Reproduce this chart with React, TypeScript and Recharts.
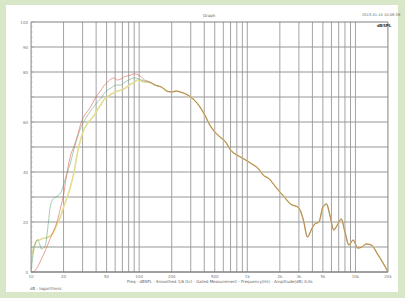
import { LineChart, Line, XAxis, YAxis, ReferenceLine } from 'recharts';

const lowFreqs = [10, 10.5, 11, 11.5, 12, 12.5, 13.5, 14.5, 15, 16, 17, 18, 19, 20, 21, 23, 25, 27, 29, 31, 34, 36, 38, 41, 44, 47, 51, 55, 58, 63, 68, 72, 77, 84, 88, 93, 98, 105, 112, 120, 130];
const redLow = [0, 0, 0.8, 2.0, 3.6, 5.2, 8.4, 11.6, 13.2, 16.0, 18.8, 22.4, 26.8, 30.8, 36.8, 46.0, 50.4, 54.8, 59.6, 62.4, 64.8, 66.4, 68.4, 70.8, 72.4, 74.4, 76.0, 77.2, 77.6, 76.8, 77.2, 78.0, 78.4, 78.8, 79.2, 79.2, 78.8, 78.0, 76.8, 76.4, 75.6];
const greenLow = [0, 7.6, 11.6, 12.8, 11.2, 9.2, 10.4, 20.0, 25.6, 29.2, 30.0, 30.8, 32.0, 34.8, 38.0, 43.2, 49.2, 54.0, 58.0, 60.4, 63.2, 64.8, 66.0, 68.0, 69.2, 71.2, 72.8, 73.6, 74.4, 74.8, 74.8, 75.6, 76.4, 77.2, 77.6, 77.6, 77.2, 76.8, 76.4, 76.0, 75.6];
const yellowLow = [5.6, 9.2, 11.6, 12.8, 12.8, 13.2, 13.6, 14.0, 14.4, 15.6, 18.0, 20.4, 22.8, 26.0, 28.4, 33.6, 40.0, 48.0, 53.6, 57.2, 60.0, 61.2, 62.4, 64.8, 66.8, 68.8, 70.0, 71.2, 71.6, 72.4, 72.8, 73.2, 74.0, 75.2, 75.6, 76.4, 76.8, 76.4, 76.0, 76.0, 75.6];

// above ~140 Hz the three measurements lie on top of each other
const tailFreqs = [140, 150, 160, 170, 180, 200, 220, 240, 270, 300, 330, 360, 400, 450, 500, 560, 630, 700, 800, 900, 1000, 1100, 1250, 1400, 1600, 1800, 2000, 2200, 2400, 2600, 2800, 3000, 3300, 3600, 3900, 4200, 4600, 5000, 5400, 5800, 6300, 6800, 7400, 8000, 8700, 9500, 10500, 11500, 12500, 14000, 16000, 18000, 20000];
const tailValues = [74.8, 74.4, 74.0, 73.2, 72.4, 72.0, 72.4, 72.0, 71.2, 70.0, 68.4, 66.4, 63.2, 58.8, 56.0, 54.0, 52.0, 48.8, 46.8, 45.6, 44.4, 43.2, 41.6, 38.8, 37.2, 34.4, 32.0, 30.0, 28.0, 26.8, 26.4, 25.6, 20.8, 14.0, 16.8, 19.2, 20.0, 26.0, 27.2, 22.8, 16.8, 18.8, 21.2, 16.0, 10.8, 12.8, 9.6, 10.0, 11.2, 10.8, 7.2, 3.6, 0];

const xLabelTicks = [10, 20, 50, 100, 200, 500, 1000, 2000, 3000, 5000, 10000, 20000];
const gridFreqs = [
  10, 20, 30, 40, 50, 60, 70, 80, 90,
  100, 200, 300, 400, 500, 600, 700, 800, 900,
  1000, 2000, 3000, 4000, 5000, 6000, 7000, 8000, 9000,
  10000, 20000,
];
const gridLevels = [0, 10, 20, 30, 40, 50, 60, 70, 80, 90, 100];
const labeledLevels = [0, 20, 40, 60, 80, 90, 100];
const minorLevels = Array.from({ length: 51 }, (_, i) => i * 2);

const data = [
  ...lowFreqs.map((f, i) => ({ f, red: redLow[i], green: greenLow[i], yellow: yellowLow[i] })),
  ...tailFreqs.map((f, i) => ({ f, red: tailValues[i], green: tailValues[i], yellow: tailValues[i] })),
];

const fmtHz = (v: number) => (v >= 1000 ? `${v / 1000}k` : `${v}`);

const LeftTick = (props: any) => {
  const { x, y, payload } = props;
  const v = payload.value;
  return (
    <g>
      <line x1={x + 2} x2={x + (v % 10 === 0 ? 5 : 3.5)} y1={y} y2={y} stroke="#999" strokeWidth={0.6} />
      {labeledLevels.includes(v) && (
        <text x={x - 1} y={y} dy={1.5} textAnchor="end" fontSize={4} fill="#777">{v}</text>
      )}
    </g>
  );
};

const RightTick = (props: any) => {
  const { x, y, payload } = props;
  const v = payload.value;
  return (
    <g>
      <line x1={x - 2} x2={x - (v % 10 === 0 ? 5 : 3.5)} y1={y} y2={y} stroke="#999" strokeWidth={0.6} />
      {labeledLevels.includes(v) && (
        <text x={x + 1} y={y} dy={1.5} textAnchor="start" fontSize={4} fill="#777">{v}</text>
      )}
    </g>
  );
};

export default function App() {
  return (
    <div style={{ position: 'relative', width: 405, height: 298, background: '#d9e7c9', fontFamily: 'DejaVu Sans' }}>
      <style>{'body{margin:0}'}</style>
      <div style={{ position: 'absolute', left: 6, top: 5, width: 392, height: 287, background: '#ffffff' }} />
      <div style={{ position: 'absolute', left: 0, top: 0 }}>
        <LineChart width={405} height={298} data={data} margin={{ top: 22, right: 0, bottom: 0, left: 0 }}>
          <XAxis
            dataKey="f"
            type="number"
            scale="log"
            domain={[10, 20000]}
            ticks={xLabelTicks}
            tickFormatter={fmtHz}
            allowDataOverflow
            height={26}
            tick={{ fontSize: 4, fill: '#777' }}
            tickSize={0}
            tickMargin={3}
            axisLine={{ stroke: '#777' }}
          />
          <YAxis
            yAxisId="left"
            type="number"
            domain={[0, 100]}
            ticks={minorLevels}
            interval={0}
            width={31}
            tick={LeftTick}
            tickLine={false}
            tickSize={0}
            tickMargin={2}
            axisLine={{ stroke: '#999' }}
          />
          <YAxis
            yAxisId="right"
            orientation="right"
            type="number"
            domain={[0, 100]}
            ticks={minorLevels}
            interval={0}
            width={17}
            tick={RightTick}
            tickLine={false}
            tickSize={0}
            tickMargin={2}
            axisLine={{ stroke: '#999' }}
          />
          {gridFreqs.map((f) => (
            <ReferenceLine key={`x${f}`} x={f} yAxisId="left" stroke="#a3a3a3" strokeWidth={1} ifOverflow="hidden" />
          ))}
          {gridLevels.map((v) => (
            <ReferenceLine key={`y${v}`} y={v} yAxisId="left" stroke={v === 100 ? '#808080' : '#969696'} strokeWidth={1} />
          ))}
          <Line yAxisId="left" dataKey="yellow" type="monotone" stroke="#e2dd90" strokeWidth={1.6} dot={false} isAnimationActive={false} />
          <Line yAxisId="left" dataKey="green" type="monotone" stroke="#5e9c74" strokeOpacity={0.6} strokeWidth={0.9} dot={false} isAnimationActive={false} />
          <Line yAxisId="left" dataKey="red" type="monotone" stroke="#d8604c" strokeOpacity={0.65} strokeWidth={0.9} dot={false} isAnimationActive={false} />
        </LineChart>
      </div>
      <div style={{ position: 'absolute', left: 203, top: 13, fontSize: 4, color: '#666' }}>Graph</div>
      <div style={{ position: 'absolute', left: 362, top: 13, fontSize: 3.6, color: '#666', whiteSpace: 'nowrap' }}>2013-01-10 10:08:38</div>
      <div style={{ position: 'absolute', left: 377, top: 23, fontSize: 4, color: '#333', fontWeight: 'bold' }}>dBSPL</div>
      <div style={{ position: 'absolute', left: 127, top: 279, fontSize: 4, color: '#666', whiteSpace: 'nowrap' }}>
        Freq - dBSPL - Smoothed 1/6 Oct - Gated Measurement - Frequency(Hz) - Amplitude(dB) 0.0s
      </div>
      <div style={{ position: 'absolute', left: 30, top: 286, fontSize: 4, color: '#666' }}>dB - logarithmic</div>
    </div>
  );
}
